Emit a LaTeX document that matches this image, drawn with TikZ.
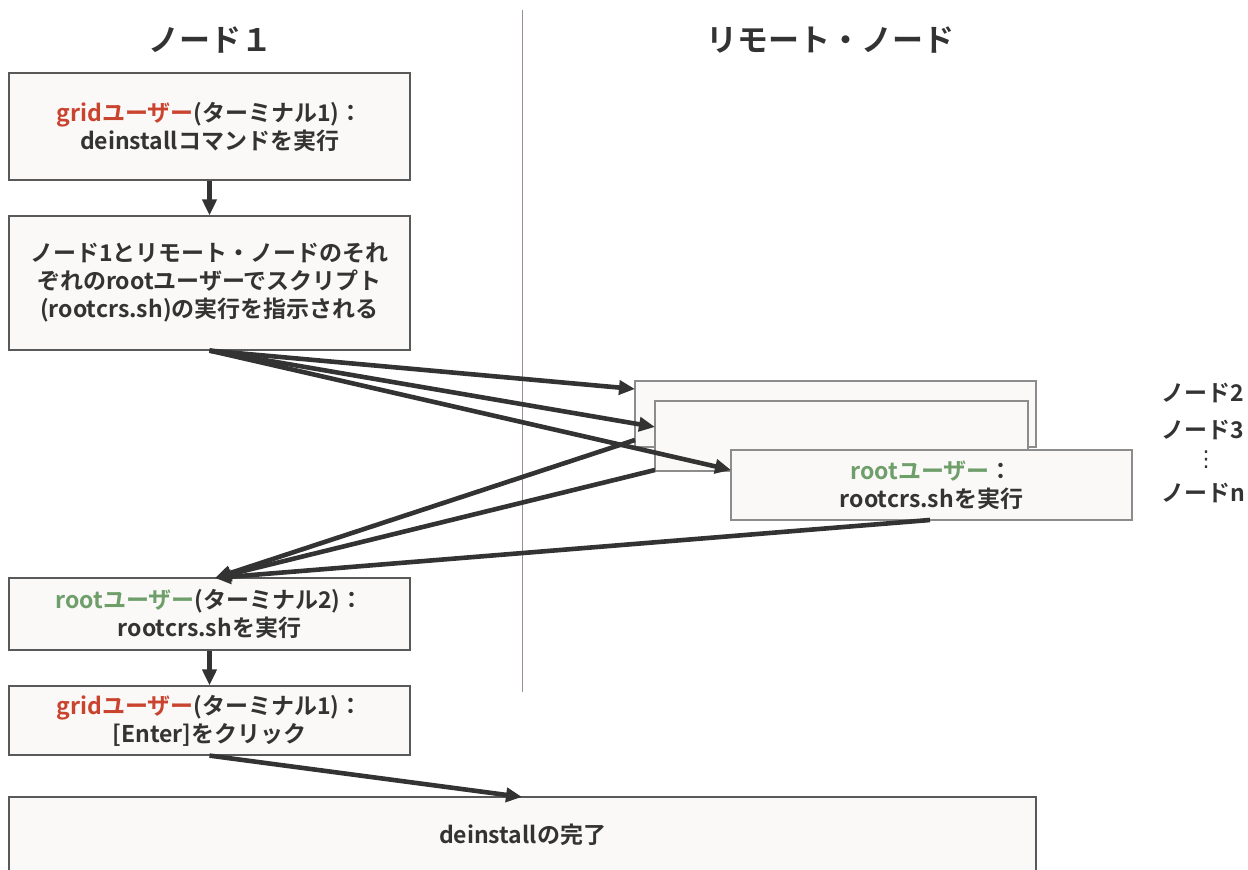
\documentclass[tikz,border=0pt]{standalone}
\usepackage{fontspec}
\setmainfont{Noto Sans CJK JP Bold}
\newfontfamily\symfont{DejaVu Sans}
\usepackage{tikz}
\usetikzlibrary{arrows.meta}

\definecolor{gridred}{HTML}{C9432F}
\definecolor{rootgreen}{HTML}{6E9E6A}
\definecolor{boxfill}{HTML}{FAF9F7}
\definecolor{ink}{HTML}{333333}
\definecolor{rulegray}{HTML}{9A918C}

\tikzset{
  box/.style={shape=rectangle,draw=black!65,fill=boxfill,line width=0.6pt,
    minimum width=200.5pt,align=center,text=ink,font=\fontsize{11.5}{14}\selectfont,inner sep=0pt},
  stackbox/.style={box,draw=black!45},
  head/.style={text=ink,font=\fontsize{15.5}{17}\selectfont},
  side/.style={text=ink,font=\fontsize{11.5}{14}\selectfont,anchor=west,inner sep=0pt},
  arr/.style={draw=ink,line width=2.3pt,-{Triangle[length=8pt,width=7pt]}}
}

\begin{document}
\begin{tikzpicture}[x=0.5pt,y=-0.5pt]
    \useasboundingbox (0,0) rectangle (1248,870);

    \node[head] (H1) at (210,40) {ノード１};
    \node[head] (H2) at (830,40) {リモート・ノード};
    \draw[rulegray,line width=0.5pt] (522,10) -- (522,692);

    \node[box,minimum height=53.5pt] (A) at (209.5,126.5)
        {\textcolor{gridred}{gridユーザー}(ターミナル1)：\\deinstallコマンドを実行};
    \node[box,minimum height=67pt] (B) at (209.5,283)
        {ノード1とリモート・ノードのそれ\\ぞれのrootユーザーでスクリプト\\(rootcrs.sh)の実行を指示される};

    \node[stackbox,minimum height=33pt] (N2) at (835.5,414) {};
    \node[stackbox,minimum width=186.5pt,minimum height=35pt] (N3) at (841.5,436) {};
    \node[stackbox,minimum height=35pt] (Nn) at (931.5,485)
        {\textcolor{rootgreen}{rootユーザー}：\\rootcrs.shを実行};

    \node[side] (L2) at (1161,393) {ノード2};
    \node[side] (L3) at (1161,430) {ノード3};
    \node[text=ink,font=\symfont\fontsize{11}{14}\selectfont] (Ld) at (1206,460) {⋮};
    \node[side] (Ln) at (1161,493) {ノードn};

    \node[box,minimum height=36pt] (C) at (209.5,614)
        {\textcolor{rootgreen}{rootユーザー}(ターミナル2)：\\rootcrs.shを実行};
    \node[box,minimum height=34.5pt] (D) at (209.5,720.5)
        {\textcolor{gridred}{gridユーザー}(ターミナル1)：\\{}[Enter]をクリック};
    \node[box,minimum width=513.5pt,minimum height=37.5pt] (E) at (522.5,834.5)
        {deinstallの完了};

    \coordinate (N2in) at (635,389);
    \coordinate (N3in) at (655,427);
    \coordinate (Nnin) at (731,470);
    \coordinate (N2out) at (635,440);
    \coordinate (N3out) at (655,470);
    \coordinate (Nnout) at (930,520);
    \coordinate (Cin) at (215,578);
    \coordinate (Ein) at (522,797);

    \draw[arr] (A.south) -- (B.north);
    \draw[arr] (B.south) -- (N2in);
    \draw[arr] (B.south) -- (N3in);
    \draw[arr] (B.south) -- (Nnin);
    \draw[arr] (N2out) -- (Cin);
    \draw[arr] (N3out) -- (Cin);
    \draw[arr] (Nnout) -- (Cin);
    \draw[arr] (C.south) -- (D.north);
    \draw[arr] (D.south) -- (Ein);
\end{tikzpicture}
\end{document}
